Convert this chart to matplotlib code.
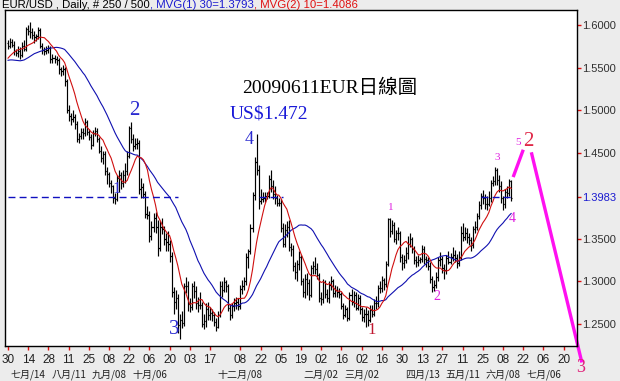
import matplotlib
matplotlib.use('Agg')
import matplotlib.pyplot as plt
import numpy as np
import pandas as pd
from matplotlib.collections import LineCollection

# ---------------- data ----------------
start_date = '2008-06-30'
n_bars = 250

pre_closes = [1.568, 1.576, 1.577, 1.576,
              1.574, 1.575, 1.563, 1.554, 1.555,
              1.552, 1.547, 1.540, 1.541, 1.560,
              1.568, 1.546, 1.551, 1.538, 1.540,
              1.548, 1.553, 1.555, 1.547, 1.553,
              1.556, 1.561, 1.568, 1.564, 1.579]

closes = [
 1.576, 1.580, 1.577, 1.569, 1.567,  1.570, 1.565, 1.576, 1.572, 1.595,
 1.593, 1.592, 1.588, 1.586, 1.587,  1.594, 1.576, 1.571, 1.569, 1.571,
 1.573, 1.560, 1.561, 1.560, 1.559,  1.548, 1.546, 1.548, 1.534, 1.501,
 1.493, 1.490, 1.492, 1.484, 1.467,  1.470, 1.475, 1.473, 1.486, 1.475,
 1.469, 1.460, 1.473, 1.476, 1.467,  1.453, 1.444, 1.449, 1.429, 1.426,
 1.415, 1.411, 1.398, 1.396, 1.421,  1.424, 1.415, 1.425, 1.429, 1.447,
 1.479, 1.466, 1.458, 1.461, 1.462,  1.408, 1.410, 1.402, 1.379, 1.378,
 1.353, 1.363, 1.374, 1.363, 1.339,  1.364, 1.361, 1.349, 1.346, 1.344,
 1.330, 1.287, 1.276, 1.280, 1.249,  1.255, 1.251, 1.295, 1.294, 1.273,
 1.270, 1.295, 1.289, 1.275, 1.272,  1.272, 1.250, 1.253, 1.268, 1.260,
 1.263, 1.261, 1.252, 1.247, 1.260,  1.295, 1.290, 1.299, 1.294, 1.269,
 1.260, 1.271, 1.275, 1.276, 1.271,  1.291, 1.295, 1.300, 1.329, 1.335,
 1.362, 1.401, 1.440, 1.430, 1.394,  1.396, 1.398, 1.400, 1.400, 1.420,
 1.412, 1.402, 1.397, 1.392, 1.392,  1.362, 1.344, 1.360, 1.363, 1.340,
 1.338, 1.318, 1.311, 1.320, 1.328,  1.300, 1.288, 1.303, 1.298, 1.284,
 1.315, 1.318, 1.314, 1.307, 1.280,  1.279, 1.299, 1.285, 1.280, 1.296,
 1.300, 1.286, 1.290, 1.287, 1.285,  1.271, 1.261, 1.267, 1.257, 1.284,
 1.276, 1.284, 1.269, 1.280, 1.267,  1.258, 1.262, 1.262, 1.255, 1.266,
 1.262, 1.274, 1.274, 1.292, 1.292,  1.302, 1.297, 1.320, 1.373, 1.359,
 1.366, 1.350, 1.356, 1.356, 1.328,  1.321, 1.325, 1.333, 1.344, 1.349,
 1.338, 1.325, 1.323, 1.325, 1.326,  1.338, 1.326, 1.325, 1.318, 1.303,
 1.293, 1.296, 1.305, 1.325, 1.326,  1.316, 1.313, 1.327, 1.323, 1.328,
 1.331, 1.327, 1.321, 1.328, 1.356,  1.352, 1.356, 1.352, 1.348, 1.342,
 1.361, 1.363, 1.377, 1.389, 1.400,  1.397, 1.390, 1.391, 1.397, 1.415,
 1.417, 1.430, 1.418, 1.411, 1.397,  1.391, 1.405, 1.403, 1.417, 1.398]

opens = [
 1.579, 1.576, 1.580, 1.577, 1.569,  1.567, 1.570, 1.565, 1.576, 1.572,
 1.595, 1.593, 1.592, 1.588, 1.586,  1.587, 1.594, 1.576, 1.571, 1.569,
 1.571, 1.573, 1.560, 1.561, 1.560,  1.559, 1.548, 1.546, 1.548, 1.534,
 1.501, 1.493, 1.490, 1.492, 1.484,  1.467, 1.470, 1.475, 1.473, 1.486,
 1.475, 1.469, 1.460, 1.473, 1.476,  1.467, 1.453, 1.444, 1.449, 1.429,
 1.426, 1.415, 1.411, 1.398, 1.396,  1.421, 1.424, 1.415, 1.425, 1.429,
 1.447, 1.479, 1.466, 1.458, 1.461,  1.462, 1.408, 1.410, 1.402, 1.379,
 1.378, 1.353, 1.363, 1.374, 1.363,  1.339, 1.364, 1.361, 1.349, 1.346,
 1.344, 1.330, 1.287, 1.276, 1.280,  1.249, 1.255, 1.251, 1.295, 1.294,
 1.273, 1.270, 1.295, 1.289, 1.275,  1.272, 1.272, 1.250, 1.253, 1.268,
 1.260, 1.263, 1.261, 1.252, 1.247,  1.260, 1.295, 1.290, 1.299, 1.294,
 1.269, 1.260, 1.271, 1.275, 1.276,  1.271, 1.291, 1.295, 1.300, 1.329,
 1.335, 1.362, 1.401, 1.440, 1.430,  1.394, 1.396, 1.398, 1.400, 1.400,
 1.420, 1.412, 1.402, 1.397, 1.392,  1.392, 1.362, 1.344, 1.360, 1.363,
 1.340, 1.338, 1.318, 1.311, 1.320,  1.328, 1.300, 1.288, 1.303, 1.298,
 1.284, 1.315, 1.318, 1.314, 1.307,  1.280, 1.279, 1.299, 1.285, 1.280,
 1.296, 1.300, 1.286, 1.290, 1.287,  1.285, 1.271, 1.261, 1.267, 1.257,
 1.284, 1.276, 1.284, 1.269, 1.280,  1.267, 1.258, 1.262, 1.262, 1.255,
 1.266, 1.262, 1.274, 1.274, 1.292,  1.292, 1.302, 1.297, 1.320, 1.373,
 1.359, 1.366, 1.350, 1.356, 1.356,  1.328, 1.321, 1.325, 1.333, 1.344,
 1.349, 1.338, 1.325, 1.323, 1.325,  1.326, 1.338, 1.326, 1.325, 1.318,
 1.303, 1.293, 1.296, 1.305, 1.325,  1.326, 1.316, 1.313, 1.327, 1.323,
 1.328, 1.331, 1.327, 1.321, 1.328,  1.356, 1.352, 1.356, 1.352, 1.348,
 1.342, 1.361, 1.363, 1.377, 1.389,  1.400, 1.397, 1.390, 1.391, 1.397,
 1.415, 1.417, 1.430, 1.418, 1.411,  1.397, 1.391, 1.405, 1.403, 1.417]

highs = [
 1.583, 1.585, 1.584, 1.581, 1.572,  1.575, 1.574, 1.580, 1.582, 1.598,
 1.600, 1.604, 1.596, 1.593, 1.590,  1.598, 1.596, 1.579, 1.574, 1.575,
 1.577, 1.575, 1.566, 1.565, 1.564,  1.561, 1.551, 1.553, 1.551, 1.537,
 1.506, 1.497, 1.500, 1.496, 1.488,  1.474, 1.480, 1.479, 1.491, 1.489,
 1.478, 1.472, 1.477, 1.481, 1.479,  1.469, 1.458, 1.453, 1.452, 1.434,
 1.428, 1.418, 1.413, 1.403, 1.425,  1.430, 1.428, 1.430, 1.438, 1.452,
 1.482, 1.487, 1.472, 1.468, 1.468,  1.465, 1.421, 1.415, 1.406, 1.388,
 1.382, 1.370, 1.380, 1.381, 1.372,  1.370, 1.374, 1.365, 1.356, 1.359,
 1.348, 1.334, 1.293, 1.290, 1.285,  1.262, 1.265, 1.298, 1.305, 1.300,
 1.280, 1.298, 1.300, 1.294, 1.282,  1.288, 1.276, 1.262, 1.275, 1.276,
 1.270, 1.268, 1.264, 1.257, 1.265,  1.300, 1.300, 1.305, 1.302, 1.297,
 1.273, 1.275, 1.280, 1.282, 1.281,  1.296, 1.302, 1.305, 1.333, 1.338,
 1.367, 1.404, 1.445, 1.472, 1.436,  1.408, 1.405, 1.404, 1.404, 1.425,
 1.430, 1.418, 1.412, 1.401, 1.398,  1.396, 1.368, 1.367, 1.370, 1.372,
 1.345, 1.342, 1.322, 1.325, 1.335,  1.331, 1.304, 1.308, 1.310, 1.303,
 1.319, 1.324, 1.328, 1.321, 1.310,  1.287, 1.303, 1.301, 1.291, 1.300,
 1.306, 1.303, 1.296, 1.294, 1.292,  1.288, 1.275, 1.272, 1.270, 1.287,
 1.291, 1.289, 1.288, 1.285, 1.284,  1.270, 1.268, 1.270, 1.266, 1.272,
 1.272, 1.279, 1.283, 1.296, 1.300,  1.306, 1.304, 1.324, 1.374, 1.374,
 1.372, 1.369, 1.360, 1.364, 1.359,  1.332, 1.331, 1.340, 1.353, 1.356,
 1.352, 1.341, 1.330, 1.331, 1.329,  1.342, 1.341, 1.330, 1.328, 1.322,
 1.306, 1.301, 1.311, 1.328, 1.334,  1.330, 1.320, 1.331, 1.335, 1.333,
 1.340, 1.337, 1.332, 1.336, 1.365,  1.368, 1.364, 1.362, 1.356, 1.352,
 1.365, 1.370, 1.380, 1.394, 1.403,  1.407, 1.402, 1.400, 1.406, 1.418,
 1.423, 1.434, 1.433, 1.425, 1.417,  1.400, 1.408, 1.411, 1.420, 1.419]

lows = [
 1.572, 1.573, 1.574, 1.565, 1.564,  1.562, 1.560, 1.563, 1.569, 1.570,
 1.588, 1.585, 1.584, 1.579, 1.581,  1.584, 1.573, 1.566, 1.565, 1.566,
 1.567, 1.556, 1.556, 1.556, 1.553,  1.543, 1.540, 1.541, 1.529, 1.497,
 1.488, 1.483, 1.486, 1.478, 1.463,  1.462, 1.466, 1.467, 1.470, 1.471,
 1.465, 1.455, 1.458, 1.470, 1.463,  1.450, 1.440, 1.437, 1.425, 1.414,
 1.410, 1.403, 1.392, 1.390, 1.394,  1.405, 1.408, 1.410, 1.415, 1.425,
 1.444, 1.462, 1.453, 1.455, 1.455,  1.402, 1.398, 1.397, 1.374, 1.373,
 1.346, 1.348, 1.358, 1.356, 1.330,  1.336, 1.355, 1.343, 1.336, 1.335,
 1.323, 1.282, 1.262, 1.268, 1.240,  1.233, 1.245, 1.248, 1.286, 1.265,
 1.264, 1.266, 1.280, 1.268, 1.264,  1.268, 1.246, 1.244, 1.247, 1.255,
 1.255, 1.253, 1.248, 1.242, 1.245,  1.258, 1.282, 1.287, 1.288, 1.265,
 1.255, 1.257, 1.265, 1.268, 1.266,  1.268, 1.285, 1.290, 1.296, 1.315,
 1.332, 1.358, 1.395, 1.425, 1.385,  1.390, 1.393, 1.393, 1.396, 1.397,
 1.405, 1.396, 1.390, 1.388, 1.388,  1.358, 1.340, 1.340, 1.352, 1.335,
 1.330, 1.312, 1.303, 1.300, 1.313,  1.296, 1.282, 1.280, 1.284, 1.278,
 1.282, 1.308, 1.308, 1.303, 1.276,  1.272, 1.275, 1.281, 1.276, 1.275,
 1.290, 1.282, 1.282, 1.282, 1.280,  1.268, 1.256, 1.258, 1.253, 1.255,
 1.272, 1.270, 1.266, 1.266, 1.262,  1.253, 1.252, 1.246, 1.248, 1.252,
 1.258, 1.259, 1.268, 1.270, 1.286,  1.288, 1.290, 1.293, 1.318, 1.352,
 1.355, 1.346, 1.344, 1.348, 1.323,  1.313, 1.316, 1.321, 1.326, 1.340,
 1.333, 1.320, 1.317, 1.318, 1.321,  1.322, 1.320, 1.317, 1.313, 1.298,
 1.288, 1.289, 1.292, 1.300, 1.318,  1.310, 1.303, 1.309, 1.320, 1.320,
 1.324, 1.322, 1.316, 1.318, 1.325,  1.347, 1.348, 1.345, 1.342, 1.336,
 1.339, 1.357, 1.360, 1.373, 1.385,  1.391, 1.385, 1.384, 1.388, 1.393,
 1.411, 1.413, 1.413, 1.405, 1.392,  1.383, 1.386, 1.398, 1.400, 1.394]

ma_slow_len = 30
ma_fast_len = 10
last_price = 1.3983
header_parts = [("EUR/USD , Daily, # 250 / 500", "#000000"),
                (", MVG(1) 30=1.3793", "#1a1ad0"),
                (", MVG(2) 10=1.4086", "#e01010")]

tick_dates = ['2008-06-30', '2008-07-14', '2008-07-28', '2008-08-11', '2008-08-25',
              '2008-09-08', '2008-09-22', '2008-10-06', '2008-10-20', '2008-11-03',
              '2008-11-17', '2008-12-08', '2008-12-22', '2009-01-05', '2009-01-19',
              '2009-02-02', '2009-02-16', '2009-03-02', '2009-03-16', '2009-03-30',
              '2009-04-13', '2009-04-27', '2009-05-11', '2009-05-25', '2009-06-08',
              '2009-06-22', '2009-07-06', '2009-07-20']
month_dates = ['2008-07-14', '2008-08-11', '2008-09-08', '2008-10-06', '2008-12-08',
               '2009-02-02', '2009-03-02', '2009-04-13', '2009-05-11', '2009-06-08',
               '2009-07-06']
month_labels = ['七月/14', '八月/11', '九月/08', '十月/06', '十二月/08',
                '二月/02', '三月/02', '四月/13', '五月/11', '六月/08', '七月/06']

y_ticks = [1.25, 1.30, 1.35, 1.3983, 1.45, 1.50, 1.55, 1.60]

# dashed level-line segments (bar index ranges) at last price
level_segments = [(0, 84), (124, 136), (234, 250)]
# projection lines (bar index, price)
proj1_x = [250, 255]
proj1_y = [1.422, 1.454]
proj2_x = [259, 284]
proj2_y = [1.451, 1.205]

# ---------------- figure ----------------
W, H = 620, 381
fig = plt.figure(figsize=(W / 100, H / 100), dpi=100, facecolor='#ececec')
ax = fig.add_axes([5 / W, 1 - 346 / H, 572 / W, 336 / H])
ax.set_facecolor('white')

all_dates = pd.bdate_range(start_date, periods=n_bars + 60)
date_index = {d: i for i, d in enumerate(all_dates)}
idx = np.arange(n_bars)

# OHLC bars
segs = []
tk = 0.6
for i in range(n_bars):
    segs.append([(i, lows[i]), (i, highs[i])])
    segs.append([(i - tk, opens[i]), (i, opens[i])])
    segs.append([(i, closes[i]), (i + tk, closes[i])])
ax.add_collection(LineCollection(segs, colors='black', linewidths=0.85))

# moving averages
cs = pd.Series(pre_closes + closes)
ma_slow = cs.rolling(ma_slow_len, min_periods=1).mean().values[-n_bars:]
ma_fast = cs.rolling(ma_fast_len, min_periods=1).mean().values[-n_bars:]
ax.plot(idx, ma_slow, color='#1010b0', lw=0.8)
ax.plot(idx, ma_fast, color='#d01010', lw=0.8)

# dashed level
for a, b in level_segments:
    ax.plot([a, b], [last_price, last_price], color='#1010c0', lw=1.0,
            dashes=(5, 3))

# projection lines
ax.plot(proj1_x, proj1_y, color='#ff10f0', lw=2.4, clip_on=False, solid_capstyle='butt')
ax.plot(proj2_x, proj2_y, color='#ff10f0', lw=2.4, clip_on=False, solid_capstyle='butt')

ax.set_xlim(-1.5, 281.6)
ax.set_ylim(1.22425, 1.61756)

# axes styling
for s in ax.spines.values():
    s.set_color('black')
    s.set_linewidth(1.0)

ax.yaxis.tick_right()
ax.set_yticks(y_ticks)
ax.set_yticklabels(['%.4f' % v for v in y_ticks])
ax.tick_params(axis='y', colors='#e01010', length=3, width=1, pad=1, labelsize=8,
               labelcolor='#303030')
for lab, v in zip(ax.get_yticklabels(), y_ticks):
    lab.set_family('Liberation Sans')
    if abs(v - last_price) < 1e-6:
        lab.set_color('#1a1ad0')

tick_idx = [date_index[pd.Timestamp(d)] for d in tick_dates]
ax.set_xticks(tick_idx)
ax.set_xticklabels([pd.Timestamp(d).strftime('%d') for d in tick_dates])
ax.tick_params(axis='x', colors='#e01010', length=3, width=1, pad=3, labelsize=8.5,
               labelcolor='#202020')
for lab in ax.get_xticklabels():
    lab.set_family('Liberation Sans')

# month labels (second row, at the bottom edge)
trans = matplotlib.transforms.blended_transform_factory(ax.transData, fig.transFigure)
for d, lab in zip(month_dates, month_labels):
    ax.text(date_index[pd.Timestamp(d)], 1 - 369 / H, lab, transform=trans,
            ha='center', va='top', fontsize=7.2, color='#202020',
            family=['Noto Sans CJK TC', 'DejaVu Sans'], clip_on=False)

# header
fig.canvas.draw()
r = fig.canvas.get_renderer()
x = 2
for s, c in header_parts:
    t = fig.text(x / W, 1 - 8 / H, s, color=c, fontsize=8.2, family='Liberation Sans',
                 va='baseline', ha='left')
    bb = t.get_window_extent(r)
    x = bb.x1

# annotations
def ftext(xp, yp, s, color, size, family=('Liberation Serif',), **kw):
    fig.text(xp / W, 1 - yp / H, s, color=color, fontsize=size, family=list(family),
             ha='center', va='center', **kw)

ftext(330, 88, '20090611EUR日線圖', '#000000', 14, family=('Liberation Serif', 'Noto Sans CJK TC'))
ftext(269, 114, 'US$1.472', '#1a1ad8', 14)
blue = '#2a2ad0'
ftext(134, 110, '2', blue, 15)
ftext(117, 189, '1', blue, 12)
ftext(174, 330, '3', blue, 15)
ftext(249, 139, '4', blue, 13)
ftext(372, 330, '1', '#c01830', 12)
mag = '#e020e0'
ftext(391, 208, '1', mag, 8)
ftext(437, 296, '2', mag, 10)
ftext(497, 157, '3', mag, 8)
ftext(512, 219, '4', mag, 10)
ftext(518, 143, '5', mag, 8)
ftext(528, 141, '2', '#e02848', 15)
ftext(581, 368, '3', '#e0207a', 13)

fig.savefig('out.png', dpi=100, facecolor=fig.get_facecolor())
